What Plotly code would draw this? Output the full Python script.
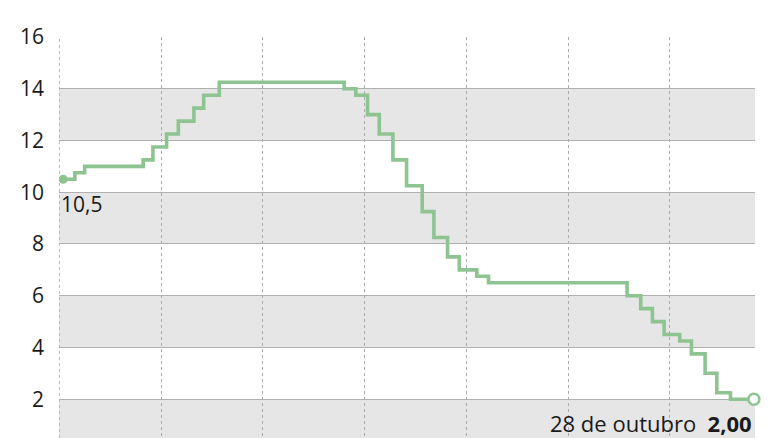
import plotly.graph_objects as go

# Selic rate decisions (date, rate %)
dates = ["2014-01-15", "2014-02-26", "2014-04-02", "2014-10-29", "2014-12-03",
         "2015-01-21", "2015-03-04", "2015-04-29", "2015-06-03", "2015-07-29",
         "2016-10-19", "2016-11-30", "2017-01-11", "2017-02-22", "2017-04-12",
         "2017-05-31", "2017-07-26", "2017-09-06", "2017-10-25", "2017-12-06",
         "2018-02-07", "2018-03-21", "2019-07-31", "2019-09-18", "2019-10-30",
         "2019-12-11", "2020-02-05", "2020-03-18", "2020-05-06", "2020-06-17",
         "2020-08-05", "2020-10-28"]
rates = [10.50, 10.75, 11.00, 11.25, 11.75,
         12.25, 12.75, 13.25, 13.75, 14.25,
         14.00, 13.75, 13.00, 12.25, 11.25,
         10.25, 9.25, 8.25, 7.50, 7.00,
         6.75, 6.50, 6.00, 5.50, 5.00,
         4.50, 4.25, 3.75, 3.00, 2.25,
         2.00, 2.00]
y_ticks = [2, 4, 6, 8, 10, 12, 14, 16]
x_ticks = ["2014-01-01", "2015-01-01", "2016-01-01", "2017-01-01",
           "2018-01-01", "2019-01-01", "2020-01-01"]
band_ranges = [(0, 2), (4, 6), (8, 10), (12, 14)]
start_label = "10,5"
end_label = "28 de outubro  <b>2,00</b>"

GREEN = "#8dc492"
FONT = "Open Sans"
TEXT = "#1a1a1a"

fig = go.Figure()

fig.add_trace(go.Scatter(
    x=dates, y=rates, mode="lines",
    line=dict(color=GREEN, width=3.6, shape="hv"),
    hoverinfo="skip", showlegend=False,
))
fig.add_trace(go.Scatter(
    x=[dates[0]], y=[rates[0]], mode="markers",
    marker=dict(color=GREEN, size=9),
    hoverinfo="skip", showlegend=False,
))
fig.add_trace(go.Scatter(
    x=[dates[-1]], y=[rates[-1]], mode="markers",
    marker=dict(color="white", size=11, line=dict(color=GREEN, width=2.5)),
    hoverinfo="skip", showlegend=False, cliponaxis=False,
))

for y0, y1 in band_ranges:
    fig.add_shape(type="rect", xref="paper", x0=0, x1=1, yref="y", y0=y0, y1=y1,
                  fillcolor="#e6e6e6", line=dict(width=0), layer="below")

# dotted gridline at the left edge (first year boundary)
fig.add_shape(type="line", xref="x", x0=x_ticks[0], x1=x_ticks[0], yref="paper", y0=0, y1=1,
              line=dict(color="#aaaaaa", width=1, dash="dot"), layer="below")

fig.add_annotation(x=dates[0], y=rates[0], text=start_label, showarrow=False,
                   xanchor="left", yanchor="top", xshift=-4, yshift=-9,
                   font=dict(family=FONT, size=21, color=TEXT))
fig.add_annotation(x=dates[-1], y=rates[-1], text=end_label, showarrow=False,
                   xanchor="right", yanchor="top", xshift=0, yshift=-7,
                   font=dict(family=FONT, size=22, color=TEXT))

# page body has an 8px default margin, so the figure is sized/offset to fit the window
fig.update_layout(
    width=770, height=430,
    margin=dict(l=51, r=23, t=29, b=0, autoexpand=False),
    paper_bgcolor="white", plot_bgcolor="white",
    font=dict(family=FONT, color=TEXT),
    xaxis=dict(range=["2013-12-31", "2020-11-01"], tickvals=x_ticks,
               showticklabels=False, showgrid=True, gridcolor="#aaaaaa",
               griddash="dot", gridwidth=1, zeroline=False, showline=False,
               automargin=False),
    yaxis=dict(range=[0.5, 16], tickvals=y_ticks, ticktext=[str(v) for v in y_ticks],
               showgrid=True, gridcolor="#b0b0b0", gridwidth=1, zeroline=False,
               showline=False, ticks="", ticklabelstandoff=14, automargin=False,
               tickfont=dict(family=FONT, size=21, color=TEXT)),
)

fig.write_html("out.html")
